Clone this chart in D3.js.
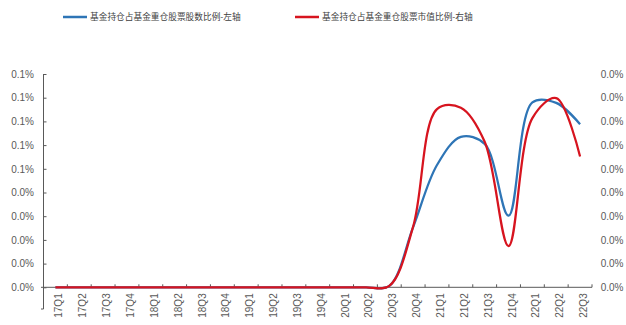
<!DOCTYPE html>
<html>
<head>
<meta charset="utf-8">
<script src="https://cdn.jsdelivr.net/npm/d3@7"></script>
<style>
  body { margin: 0; background: #fff; }
  svg { display: block; }
</style>
</head>
<body>
<svg id="chart" width="626" height="325"></svg>
<script>
// Quarterly categories
const quarters = [
  "17Q1","17Q2","17Q3","17Q4",
  "18Q1","18Q2","18Q3","18Q4",
  "19Q1","19Q2","19Q3","19Q4",
  "20Q1","20Q2","20Q3","20Q4",
  "21Q1","21Q2","21Q3","21Q4",
  "22Q1","22Q2","22Q3"
];

// Share-count ratio (left axis, in %)
const shareCountRatio = [
  0, 0, 0, 0,
  0, 0, 0, 0,
  0, 0, 0, 0,
  0, 0, 0.0006, 0.0254,
  0.0516, 0.0635, 0.0605, 0.0302,
  0.0780, 0.0778, 0.0688
];

// Market-value ratio (right axis, in %)
const marketValueRatio = [
  0, 0, 0, 0,
  0, 0, 0, 0,
  0, 0, 0, 0,
  0, 0, 0.0003, 0.0128,
  0.0376, 0.0379, 0.0307, 0.0087,
  0.0357, 0.0399, 0.0276
];

const seriesNames = ["基金持仓占基金重仓股票股数比例-左轴", "基金持仓占基金重仓股票市值比例-右轴"];
const seriesColors = ["#2E75B6", "#D7141F"];

// Axis ticks and their printed labels
const leftTicks = [0, 0.01, 0.02, 0.03, 0.04, 0.05, 0.06, 0.07, 0.08, 0.09];
const leftTickLabels = ["0.0%","0.0%","0.0%","0.0%","0.0%","0.1%","0.1%","0.1%","0.1%","0.1%"];
const rightTicks = [0, 0.005, 0.01, 0.015, 0.02, 0.025, 0.03, 0.035, 0.04, 0.045];
const rightTickLabels = ["0.0%","0.0%","0.0%","0.0%","0.0%","0.0%","0.0%","0.0%","0.0%","0.0%"];

const plot = { left: 43.5, right: 592, top: 74, bottom: 287.3 };
const axisColor = "#595959";
const labelColor = "#595959";
const numFont = "'Liberation Sans', Arial, sans-serif";
const cjkFont = "'Noto Sans CJK SC', sans-serif";

const svg = d3.select("#chart");

const x = d3.scaleBand().domain(quarters).range([plot.left, plot.right]).padding(0);
const yL = d3.scaleLinear().domain([0, 0.09]).range([plot.bottom, plot.top]);
const yR = d3.scaleLinear().domain([0, 0.045]).range([plot.bottom, plot.top]);
const cx = q => x(q) + x.bandwidth() / 2;

// Left axis
const leftAxis = d3.axisLeft(yL)
  .tickValues(leftTicks)
  .tickFormat((d, i) => leftTickLabels[i])
  .tickSizeInner(-3)
  .tickSizeOuter(0)
  .tickPadding(9.5);
const gL = svg.append("g").attr("transform", `translate(${plot.left},0)`).call(leftAxis);
gL.select(".domain").remove();
gL.selectAll("line").attr("stroke", axisColor);
gL.selectAll("text").attr("fill", labelColor).style("font-family", numFont).style("font-size", "10px");
// vertical axis line, running down past the category axis
svg.append("line")
  .attr("x1", plot.left).attr("x2", plot.left)
  .attr("y1", plot.top).attr("y2", 309)
  .attr("stroke", axisColor).attr("stroke-width", 1);
svg.append("line")
  .attr("x1", plot.left - 2.5).attr("x2", plot.left)
  .attr("y1", 309).attr("y2", 309)
  .attr("stroke", axisColor).attr("stroke-width", 1);

// Right axis labels (no axis line)
const rightAxis = d3.axisRight(yR)
  .tickValues(rightTicks)
  .tickFormat((d, i) => rightTickLabels[i])
  .tickSize(0)
  .tickPadding(8.7);
const gR = svg.append("g").attr("transform", `translate(${plot.right},0)`).call(rightAxis);
gR.select(".domain").remove();
gR.selectAll("text").attr("fill", labelColor).style("font-family", numFont).style("font-size", "10px");

// Category axis
svg.append("line")
  .attr("x1", plot.left - 2.5).attr("x2", plot.right)
  .attr("y1", plot.bottom).attr("y2", plot.bottom)
  .attr("stroke", axisColor).attr("stroke-width", 1);
const boundaries = quarters.map(q => x(q)).concat([plot.right]).slice(1);
svg.append("g").selectAll("line").data(boundaries).join("line")
  .attr("x1", d => d).attr("x2", d => d)
  .attr("y1", plot.bottom).attr("y2", plot.bottom - 3)
  .attr("stroke", axisColor).attr("stroke-width", 1);
svg.append("g").selectAll("text").data(quarters).join("text")
  .attr("transform", d => `translate(${cx(d) + 3.5},${plot.bottom + 6}) rotate(-90)`)
  .attr("text-anchor", "end")
  .attr("dy", "0.35em")
  .attr("fill", labelColor)
  .style("font-family", numFont)
  .style("font-size", "10px")
  .text(d => d);

// Series lines
const lineL = d3.line().x((d, i) => cx(quarters[i])).y(d => yL(d)).curve(d3.curveCatmullRom);
const lineR = d3.line().x((d, i) => cx(quarters[i])).y(d => yR(d)).curve(d3.curveCatmullRom);
svg.append("path").datum(shareCountRatio)
  .attr("d", lineL).attr("fill", "none")
  .attr("stroke", seriesColors[0]).attr("stroke-width", 2.25)
  .attr("stroke-linejoin", "round");
svg.append("path").datum(marketValueRatio)
  .attr("d", lineR).attr("fill", "none")
  .attr("stroke", seriesColors[1]).attr("stroke-width", 2.25)
  .attr("stroke-linejoin", "round");

// Legend
const legendItems = [
  { name: seriesNames[0], color: seriesColors[0], x: 63 },
  { name: seriesNames[1], color: seriesColors[1], x: 295 }
];
const lg = svg.append("g").selectAll("g").data(legendItems).join("g")
  .attr("transform", d => `translate(${d.x},17)`);
lg.append("line").attr("x1", 0).attr("x2", 24).attr("y1", 0).attr("y2", 0)
  .attr("stroke", d => d.color).attr("stroke-width", 2.5);
lg.append("text").attr("x", 27).attr("dy", "0.35em")
  .attr("fill", "#404040")
  .style("font-family", cjkFont).style("font-size", "8.7px")
  .text(d => d.name);
</script>
</body>
</html>
